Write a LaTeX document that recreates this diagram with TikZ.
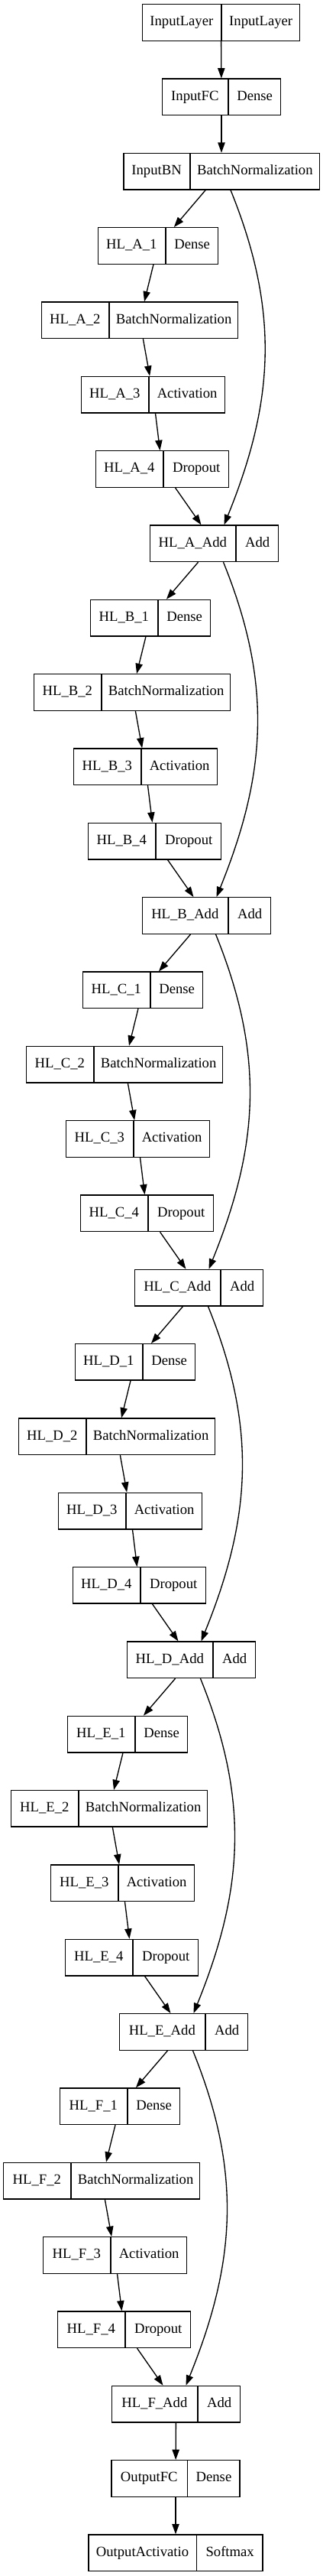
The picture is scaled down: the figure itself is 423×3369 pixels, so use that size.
\documentclass[tikz,border=0pt]{standalone}
\usepackage{fontspec}
\setmainfont{Liberation Serif}
\usetikzlibrary{shapes.multipart, arrows.meta, calc}

\newlength\pxu
\setlength\pxu{0.75pt}
\newcommand\cells[4]{\makebox[#1\pxu]{\strut#2}\nodepart{two}\makebox[#3\pxu]{\strut#4}}

\begin{document}
\begin{tikzpicture}[x=0.75pt, y=-0.75pt, font=\fontsize{14}{16}\selectfont,
    layer/.style={draw, line width=1pt, rectangle split, rectangle split horizontal,
      rectangle split parts=2, inner xsep=0pt, inner ysep=0pt, minimum height=35.6pt},
    flow/.style={line width=1pt, -{Triangle[length=10pt, width=7pt]}}
]
  \useasboundingbox (0,0) rectangle (423,3369);

  % Input
  \node[layer] (inlayer) at (289.5,29.5) {\cells{103}{InputLayer}{102}{InputLayer}};
  \node[layer] (infc) at (290,126.8) {\cells{86}{InputFC}{68}{Dense}};
  \node[layer] (inbn) at (290,224.2) {\cells{86.5}{InputBN}{168.5}{BatchNormalization}};

  % Block A
  \node[layer] (a1) at (207,321.5) {\cells{88}{HL\_A\_1}{68}{Dense}};
  \node[layer] (a2) at (183,418.8) {\cells{88}{HL\_A\_2}{168}{BatchNormalization}};
  \node[layer] (a3) at (200.5,516.2) {\cells{88}{HL\_A\_3}{99}{Activation}};
  \node[layer] (a4) at (212.5,613.5) {\cells{88}{HL\_A\_4}{85}{Dropout}};
  \node[layer] (aadd) at (280.5,710.8) {\cells{112}{HL\_A\_Add}{55}{Add}};

  % Block B
  \node[layer] (b1) at (197,808.1) {\cells{88}{HL\_B\_1}{68}{Dense}};
  \node[layer] (b2) at (173,905.5) {\cells{88}{HL\_B\_2}{168}{BatchNormalization}};
  \node[layer] (b3) at (190.5,1002.8) {\cells{88}{HL\_B\_3}{99}{Activation}};
  \node[layer] (b4) at (202.5,1100.1) {\cells{88}{HL\_B\_4}{85}{Dropout}};
  \node[layer] (badd) at (270.5,1197.5) {\cells{112}{HL\_B\_Add}{55}{Add}};

  % Block C
  \node[layer] (c1) at (187,1294.8) {\cells{88}{HL\_C\_1}{68}{Dense}};
  \node[layer] (c2) at (163,1392.1) {\cells{88}{HL\_C\_2}{168}{BatchNormalization}};
  \node[layer] (c3) at (180.5,1489.5) {\cells{88}{HL\_C\_3}{99}{Activation}};
  \node[layer] (c4) at (192.5,1586.8) {\cells{88}{HL\_C\_4}{85}{Dropout}};
  \node[layer] (cadd) at (260.5,1684.1) {\cells{112}{HL\_C\_Add}{55}{Add}};

  % Block D
  \node[layer] (d1) at (177,1781.4) {\cells{88}{HL\_D\_1}{68}{Dense}};
  \node[layer] (d2) at (153,1878.8) {\cells{88}{HL\_D\_2}{168}{BatchNormalization}};
  \node[layer] (d3) at (170.5,1976.1) {\cells{88}{HL\_D\_3}{99}{Activation}};
  \node[layer] (d4) at (182.5,2073.4) {\cells{88}{HL\_D\_4}{85}{Dropout}};
  \node[layer] (dadd) at (250.5,2170.8) {\cells{112}{HL\_D\_Add}{55}{Add}};

  % Block E
  \node[layer] (e1) at (167,2268.1) {\cells{88}{HL\_E\_1}{68}{Dense}};
  \node[layer] (e2) at (143,2365.4) {\cells{88}{HL\_E\_2}{168}{BatchNormalization}};
  \node[layer] (e3) at (160.5,2462.8) {\cells{88}{HL\_E\_3}{99}{Activation}};
  \node[layer] (e4) at (172.5,2560.1) {\cells{88}{HL\_E\_4}{85}{Dropout}};
  \node[layer] (eadd) at (240.5,2657.4) {\cells{112}{HL\_E\_Add}{55}{Add}};

  % Block F
  \node[layer] (f1) at (157,2754.7) {\cells{88}{HL\_F\_1}{68}{Dense}};
  \node[layer] (f2) at (133,2852.1) {\cells{88}{HL\_F\_2}{168}{BatchNormalization}};
  \node[layer] (f3) at (150.5,2949.4) {\cells{88}{HL\_F\_3}{99}{Activation}};
  \node[layer] (f4) at (162.5,3046.7) {\cells{88}{HL\_F\_4}{85}{Dropout}};
  \node[layer] (fadd) at (230.5,3144.1) {\cells{112}{HL\_F\_Add}{55}{Add}};

  % Output
  \node[layer] (outfc) at (230,3241.4) {\cells{98.6}{OutputFC}{68}{Dense}};
  \node[layer] (outact) at (230,3338.7) {\cells{141}{OutputActivatio}{85.6}{Softmax}};

  \draw[flow] (inlayer) -- (infc);
  \draw[flow] (infc) -- (inbn);
  \draw[flow] (inbn) -- (a1);
  \draw[flow] (a1) -- (a2);
  \draw[flow] (a2) -- (a3);
  \draw[flow] (a3) -- (a4);
  \draw[flow] (a4) -- (aadd);
  \draw[flow] (aadd) -- (b1);
  \draw[flow] (b1) -- (b2);
  \draw[flow] (b2) -- (b3);
  \draw[flow] (b3) -- (b4);
  \draw[flow] (b4) -- (badd);
  \draw[flow] (badd) -- (c1);
  \draw[flow] (c1) -- (c2);
  \draw[flow] (c2) -- (c3);
  \draw[flow] (c3) -- (c4);
  \draw[flow] (c4) -- (cadd);
  \draw[flow] (cadd) -- (d1);
  \draw[flow] (d1) -- (d2);
  \draw[flow] (d2) -- (d3);
  \draw[flow] (d3) -- (d4);
  \draw[flow] (d4) -- (dadd);
  \draw[flow] (dadd) -- (e1);
  \draw[flow] (e1) -- (e2);
  \draw[flow] (e2) -- (e3);
  \draw[flow] (e3) -- (e4);
  \draw[flow] (e4) -- (eadd);
  \draw[flow] (eadd) -- (f1);
  \draw[flow] (f1) -- (f2);
  \draw[flow] (f2) -- (f3);
  \draw[flow] (f3) -- (f4);
  \draw[flow] (f4) -- (fadd);
  \draw[flow] (fadd) -- (outfc);
  \draw[flow] (outfc) -- (outact);

  % Skip connections
  \draw[flow] ($(inbn.south)+(12,0)$) .. controls +(65,160) and +(65,-160) .. ($(aadd.north)+(13,0)$);
  \draw[flow] ($(aadd.south)+(12,0)$) .. controls +(65,160) and +(65,-160) .. ($(badd.north)+(13,0)$);
  \draw[flow] ($(badd.south)+(12,0)$) .. controls +(65,160) and +(65,-160) .. ($(cadd.north)+(13,0)$);
  \draw[flow] ($(cadd.south)+(12,0)$) .. controls +(65,160) and +(65,-160) .. ($(dadd.north)+(13,0)$);
  \draw[flow] ($(dadd.south)+(12,0)$) .. controls +(65,160) and +(65,-160) .. ($(eadd.north)+(13,0)$);
  \draw[flow] ($(eadd.south)+(12,0)$) .. controls +(65,160) and +(65,-160) .. ($(fadd.north)+(13,0)$);
\end{tikzpicture}
\end{document}
